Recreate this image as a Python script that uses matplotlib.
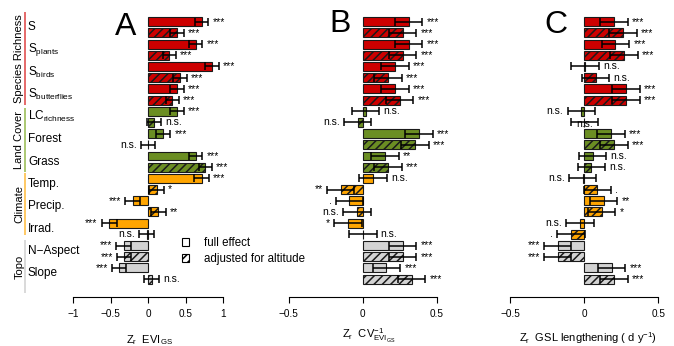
import matplotlib
matplotlib.use('Agg')
import matplotlib.pyplot as plt
import matplotlib.transforms as mtransforms
from matplotlib.patches import Patch

plt.rcParams['font.family'] = ['Liberation Sans', 'DejaVu Sans']
plt.rcParams['mathtext.fontset'] = 'custom'
plt.rcParams['mathtext.rm'] = 'Liberation Sans'
plt.rcParams['mathtext.it'] = 'Liberation Sans:italic'
plt.rcParams['mathtext.bf'] = 'Liberation Sans:bold'
plt.rcParams['hatch.linewidth'] = 1.1
plt.rcParams['axes.unicode_minus'] = True

# ---------------- data ----------------
variables = ['S', r'S$_\mathrm{plants}$', r'S$_\mathrm{birds}$', r'S$_\mathrm{butterflies}$',
             r'LC$_\mathrm{richness}$', 'Forest', 'Grass', 'Temp.', 'Precip.', 'Irrad.',
             'N\u2212Aspect', 'Slope']
groups = ['Species Richness', 'Land Cover', 'Climate', 'Topo']
group_of_var = [0, 0, 0, 0, 1, 1, 1, 2, 2, 2, 3, 3]
group_colors = ['#CD0000', '#6B8E23', '#FFA500', '#D3D3D3']
group_line_colors = ['#E05050', '#9DBF5A', '#FFC04A', '#D3D3D3']

# Panel A: EVI_GS
a_full = [0.71, 0.63, 0.85, 0.38, 0.38, 0.20, 0.63, 0.71, -0.21, -0.52, -0.33, -0.39]
a_adj = [0.38, 0.28, 0.42, 0.32, 0.075, -0.005, 0.76, 0.11, 0.13, -0.02, -0.32, 0.045]
a_full_err = [0.09, 0.09, 0.09, 0.09, 0.09, 0.095, 0.09, 0.095, 0.095, 0.10, 0.095, 0.095]
a_adj_err = [0.09, 0.09, 0.09, 0.09, 0.095, 0.095, 0.09, 0.10, 0.10, 0.10, 0.095, 0.10]
a_full_sig = ['***', '***', '***', '***', '***', '***', '***', '***', '***', '***', '***', '***']
a_adj_sig = ['***', '***', '***', '***', 'n.s.', 'n.s.', '***', '*', '**', 'n.s.', '***', 'n.s.']

# Panel B: CV^-1 EVI_GS
b_full = [0.31, 0.31, 0.22, 0.22, 0.02, 0.38, 0.15, 0.07, -0.09, -0.10, 0.27, 0.16]
b_adj = [0.27, 0.27, 0.17, 0.25, -0.035, 0.355, 0.17, -0.15, -0.04, 0.001, 0.27, 0.33]
b_full_err = [0.093] * 12
b_adj_err = [0.093] * 12
b_full_sig = ['***', '***', '***', '***', 'n.s.', '***', '**', 'n.s.', '.', '*', '***', '***']
b_adj_sig = ['***', '***', '***', '***', 'n.s.', '***', '***', '**', 'n.s.', 'n.s.', '***', '***']

# Panel C: GSL lengthening
c_full = [0.20, 0.21, 0.005, 0.28, -0.02, 0.18, 0.056, -0.012, 0.13, -0.03, -0.18, 0.185]
c_adj = [0.26, 0.27, 0.077, 0.28, 0.0, 0.20, 0.048, 0.088, 0.117, -0.09, -0.18, 0.20]
c_full_err = [0.093] * 12
c_adj_err = [0.093] * 12
c_full_sig = ['***', '***', 'n.s.', '***', 'n.s.', '***', 'n.s.', 'n.s.', '**', 'n.s.', '***', '***']
c_adj_sig = ['***', '***', 'n.s.', '***', 'n.s.', '***', 'n.s.', '.', '*', '.', '***', '***']

panels = [
    dict(letter='A', full=a_full, adj=a_adj, ferr=a_full_err, aerr=a_adj_err,
         fsig=a_full_sig, asig=a_adj_sig,
         ticks=[-1, -0.5, 0, 0.5, 1], ticklabels=['\u22121', '\u22120.5', '0', '0.5', '1'],
         xlabel=r'Z$_\mathrm{r}$  EVI$_\mathrm{GS}$'),
    dict(letter='B', full=b_full, adj=b_adj, ferr=b_full_err, aerr=b_adj_err,
         fsig=b_full_sig, asig=b_adj_sig,
         ticks=[-0.5, 0, 0.5], ticklabels=['\u22120.5', '0', '0.5'],
         xlabel=r'Z$_\mathrm{r}$  CV$_{\mathrm{EVI}_\mathrm{GS}}^{\mathrm{-1}}$'),
    dict(letter='C', full=c_full, adj=c_adj, ferr=c_full_err, aerr=c_adj_err,
         fsig=c_full_sig, asig=c_adj_sig,
         ticks=[-0.5, 0, 0.5], ticklabels=['\u22120.5', '0', '0.5'],
         xlabel=r'Z$_\mathrm{r}$  GSL lengthening ( d y$^{\mathrm{-1}}$)'),
]

# ---------------- layout ----------------
W_PX, H_PX = 674, 346
fig = plt.figure(figsize=(W_PX / 100, H_PX / 100), dpi=100)

row0_px, row_step_px = 21.7, 11.19
top_px, spine_px = 8, 297
ylim = ((spine_px - row0_px) / row_step_px, (top_px - row0_px) / row_step_px)

# (zero pixel, pixels per unit, half width in px)
geo = [(148.3, 75.0, 100), (362.7, 148.0, 100), (584.3, 148.0, 85)]
letter_pos = [(126, 27), (340, 24), (556, 25)]
xlabel_pos = [(149.5, 343), (368.5, 338.5), (587.5, 342.5)]

axes = []
for p, (x0, k, W), lp, xp in zip(panels, geo, letter_pos, xlabel_pos):
    ax = fig.add_axes([(x0 - W) / W_PX, 1 - spine_px / H_PX, 2 * W / W_PX, (spine_px - top_px) / H_PX])
    ax.set_facecolor('none')
    ax.set_xlim(-W / k, W / k)
    ax.set_ylim(*ylim)
    for s in ['top', 'right', 'left']:
        ax.spines[s].set_visible(False)
    ax.spines['bottom'].set_bounds(p['ticks'][0], p['ticks'][-1])
    ax.spines['bottom'].set_linewidth(0.8)
    ax.set_xticks(p['ticks'])
    ax.set_xticklabels(p['ticklabels'])
    ax.tick_params(axis='x', direction='out', length=4.5, width=0.8, labelsize=7.2, pad=4)
    ax.set_yticks([])

    n = len(p['full'])
    rows_full = [2 * j for j in range(n)]
    rows_adj = [2 * j + 1 for j in range(n)]
    cols = [group_colors[g] for g in group_of_var]
    ax.barh(rows_full, p['full'], height=0.8, color=cols, edgecolor='#1a1a1a', linewidth=0.8, zorder=2)
    ax.barh(rows_adj, p['adj'], height=0.8, color=cols, edgecolor='#1a1a1a', linewidth=0.8,
            hatch='////', zorder=2)
    ax.errorbar(p['full'], rows_full, xerr=p['ferr'], fmt='none', ecolor='black',
                elinewidth=1.1, capsize=2.6, capthick=1.1, zorder=3)
    ax.errorbar(p['adj'], rows_adj, xerr=p['aerr'], fmt='none', ecolor='black',
                elinewidth=1.1, capsize=2.6, capthick=1.1, zorder=3)

    for vals, errs, sigs, rows in [(p['full'], p['ferr'], p['fsig'], rows_full),
                                   (p['adj'], p['aerr'], p['asig'], rows_adj)]:
        for v, e, s, r in zip(vals, errs, sigs, rows):
            if v > 0:
                ax.annotate(s, (v + e, r), xytext=(3, 0), textcoords='offset points',
                            ha='left', va='center', fontsize=7.5, zorder=4)
            elif v < 0:
                ax.annotate(s, (v - e, r), xytext=(-3, 0), textcoords='offset points',
                            ha='right', va='center', fontsize=7.5, zorder=4)
            else:
                ax.annotate(s, (v, r), xytext=(0, -1.5), textcoords='offset points',
                            ha='center', va='center', fontsize=7.5, zorder=4)

    fig.text(lp[0] / W_PX, 1 - lp[1] / H_PX, p['letter'], fontsize=23, ha='center', va='center')
    fig.text(xp[0] / W_PX, 1 - xp[1] / H_PX, p['xlabel'], fontsize=8, ha='center', va='baseline')
    axes.append(ax)

axA = axes[0]
trans = mtransforms.blended_transform_factory(fig.transFigure, axA.transData)

# variable labels
for j, name in enumerate(variables):
    axA.text(28 / W_PX, 2 * j + 0.5, name, transform=trans, fontsize=8.5,
             ha='left', va='center', clip_on=False)

# group lines and labels
group_span = [(-0.85, 7.45), (7.7, 13.45), (13.5, 19.05), (19.5, 24.25)]
for g, (name, (y0, y1)) in enumerate(zip(groups, group_span)):
    axA.plot([25 / W_PX, 25 / W_PX], [y0, y1], transform=trans, color=group_line_colors[g],
             lw=1.2, clip_on=False, solid_capstyle='butt')
    axA.text(19.5 / W_PX, (y0 + y1) / 2, name, transform=trans, rotation=90, fontsize=8,
             ha='center', va='center', clip_on=False)

# legend
handles = [Patch(facecolor='white', edgecolor='black', linewidth=0.8),
           Patch(facecolor='white', edgecolor='black', linewidth=0.8, hatch='////')]
fig.legend(handles, ['full effect', 'adjusted for altitude'], loc='upper left',
           bbox_to_anchor=(182 / W_PX, 1 - 237 / H_PX), frameon=False, fontsize=8.3,
           handlelength=0.65, handleheight=0.65, handletextpad=1.3, labelspacing=0.35,
           borderpad=0, borderaxespad=0)

fig.savefig('out.png', dpi=100)
